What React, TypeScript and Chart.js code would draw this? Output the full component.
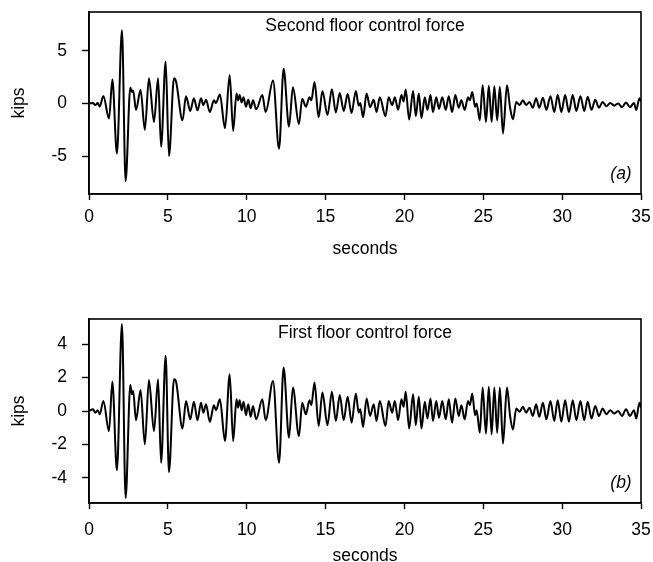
import React, { useEffect, useRef } from "react";
import { Chart, registerables } from "chart.js";

Chart.register(...registerables);

// ---- Data ----
const timeA = [
  0.0, 0.25, 0.4, 0.55, 0.68, 0.91, 1.27, 1.48, 1.77, 2.09, 2.32, 2.62, 2.72, 2.8, 2.98, 3.27, 3.54, 3.8, 4.12, 4.38,
  4.57, 4.86, 5.07, 5.39, 5.52, 5.93, 6.15, 6.42, 6.65, 6.88, 7.1, 7.25, 7.42, 7.66, 7.92, 8.05, 8.3, 8.62, 8.92, 9.14,
  9.35, 9.45, 9.55, 9.68, 9.8, 9.95, 10.1, 10.25, 10.4, 10.6, 10.99, 11.2, 11.67, 12.05, 12.34, 12.68, 12.93, 13.31, 13.52, 13.75,
  13.98, 14.1, 14.3, 14.56, 14.8, 15.12, 15.4, 15.65, 15.9, 16.15, 16.4, 16.65, 16.92, 17.1, 17.2, 17.38, 17.6, 17.82, 18.05, 18.23,
  18.44, 18.8, 19.0, 19.22, 19.39, 19.6, 19.81, 19.95, 20.08, 20.3, 20.55, 20.72, 20.91, 21.08, 21.29, 21.46, 21.65, 21.81, 22.02, 22.19,
  22.4, 22.62, 22.81, 23.02, 23.23, 23.44, 23.61, 23.82, 24.03, 24.15, 24.3, 24.48, 24.58, 24.78, 24.96, 25.17, 25.35, 25.53, 25.7, 25.88,
  26.05, 26.25, 26.5, 26.7, 26.88, 27.09, 27.3, 27.51, 27.72, 27.93, 28.14, 28.35, 28.55, 28.78, 29.0, 29.26, 29.5, 29.72, 29.95, 30.19,
  30.43, 30.67, 30.9, 31.16, 31.4, 31.62, 31.86, 32.1, 32.33, 32.57, 32.8, 33.05, 33.3, 33.55, 33.8, 34.05, 34.3, 34.55, 34.7, 34.9,
  35.0,
];
const forceA = [
  0.0, 0.05, -0.15, 0.05, -0.3, 0.72, -1.43, 2.28, -4.75, 6.96, -7.38, 1.52, 1.1, 1.25, -0.6, 1.3, -2.5, 2.4, -1.75, 2.4,
  -4.1, 4.0, -5.0, 2.4, 2.1, -1.6, 0.7, -0.7, 0.5, -0.65, 0.5, -0.15, 0.35, -0.8, 0.3, 0.05, 0.85, -2.35, 2.7, -2.6,
  0.95, 0.3, 0.8, 0.1, 0.6, -0.3, 0.35, -0.45, 0.3, -0.55, 0.8, -0.8, 2.2, -4.3, 3.3, -2.2, 1.55, -1.95, 0.45, -0.3,
  0.6, 0.3, 2.05, -1.3, 1.2, -1.1, 1.35, -0.85, 1.0, -0.7, 0.9, -0.9, 1.2, -0.2, 0.05, -1.3, 0.95, -0.35, 0.35, -0.8,
  0.6, -1.2, 0.6, -0.15, 0.6, -0.6, 0.8, 0.2, 1.33, -1.52, 1.2, -1.2, 0.95, -1.4, 0.6, -0.6, 0.8, -0.8, 0.6, -0.5,
  0.6, -0.6, 0.7, -0.8, 0.8, -0.4, 0.3, -0.6, 0.6, 0.3, 1.1, -0.3, 0.0, -1.6, 1.74, -1.75, 1.7, -1.75, 1.65, -1.6,
  1.6, -2.85, 1.74, -0.4, -1.5, 0.15, -0.15, 0.3, -0.15, 0.15, -0.4, 0.5, -0.4, 0.55, -0.6, 0.7, -0.8, 0.8, -0.8, 0.8,
  -0.8, 0.8, -0.7, 0.7, -0.7, 0.65, -0.6, 0.35, -0.4, 0.15, -0.25, 0.05, -0.2, 0.0, -0.35, 0.1, -0.35, 0.05, -0.6, 0.5,
  0.2,
];

const timeB = timeA.slice();
const forceB = [
  0.0, 0.1, -0.1, 0.05, -0.2, 0.6, -1.2, 1.76, -3.54, 5.2, -5.2, 1.55, 1.0, 1.2, -0.55, 1.25, -2.0, 1.85, -1.2, 1.9,
  -3.1, 3.3, -3.65, 1.9, 1.75, -1.05, 0.6, -0.5, 0.55, -0.55, 0.5, -0.1, 0.4, -0.65, 0.35, 0.05, 0.7, -1.8, 2.2, -1.8,
  0.7, 0.2, 0.65, 0.05, 0.55, -0.25, 0.4, -0.35, 0.3, -0.5, 0.7, -0.55, 1.8, -3.1, 2.6, -1.6, 1.4, -1.5, 0.5, -0.2,
  0.65, 0.35, 1.7, -0.9, 1.1, -0.85, 1.15, -0.6, 0.95, -0.55, 0.85, -0.7, 1.05, -0.1, 0.1, -0.95, 0.75, -0.3, 0.4, -0.6,
  0.6, -0.9, 0.6, -0.1, 0.6, -0.55, 0.7, 0.25, 1.15, -1.05, 1.0, -0.85, 0.85, -1.05, 0.55, -0.45, 0.75, -0.6, 0.6, -0.4,
  0.6, -0.5, 0.7, -0.7, 0.75, -0.3, 0.35, -0.5, 0.6, 0.35, 1.05, -0.25, 0.05, -1.3, 1.4, -1.35, 1.45, -1.4, 1.4, -1.3,
  1.4, -1.95, 1.4, -0.3, -1.1, 0.15, -0.05, 0.25, -0.1, 0.2, -0.3, 0.4, -0.35, 0.5, -0.5, 0.6, -0.6, 0.65, -0.65, 0.65,
  -0.65, 0.65, -0.55, 0.6, -0.55, 0.55, -0.45, 0.3, -0.3, 0.15, -0.2, 0.05, -0.15, 0.0, -0.3, 0.1, -0.3, 0.05, -0.45, 0.5,
  0.2,
];

const xTicks = [0, 5, 10, 15, 20, 25, 30, 35];
const yTicksA = [-5, 0, 5];
const yTicksB = [-4, -2, 0, 2, 4];

const FONT = "'Liberation Sans', Arial, Helvetica, sans-serif";
const FONT_SIZE = 17.5;
const W = 653;
const AREA_LEFT = 89;
const AREA_RIGHT = 641;

const framePlugin = {
  id: "frame",
  afterDraw(chart: any, _args: any, opts: any) {
    const { ctx, chartArea: a } = chart;
    ctx.save();
    ctx.strokeStyle = "#000";
    ctx.lineWidth = 1.6;
    ctx.strokeRect(a.left, a.top, a.right - a.left, a.bottom - a.top);
    ctx.fillStyle = "#000";
    ctx.textAlign = "center";
    ctx.textBaseline = "middle";
    ctx.font = `${FONT_SIZE}px ${FONT}`;
    ctx.fillText(opts.title, (a.left + a.right) / 2, a.top + opts.titleDy);
    ctx.font = `italic ${FONT_SIZE}px ${FONT}`;
    ctx.fillText(opts.tag, a.right - 20, a.bottom - 20);
    ctx.restore();
  },
};

type Cfg = {
  times: number[];
  values: number[];
  yTicks: number[];
  yMin: number;
  yMax: number;
  title: string;
  tag: string;
  height: number;
  areaTop: number;
  areaBottom: number;
  xTickPad: number;
  xTitlePad: number;
};

function build(canvas: HTMLCanvasElement, c: Cfg) {
  const font = { family: FONT, size: FONT_SIZE };
  return new Chart(canvas, {
    type: "line",
    data: {
      datasets: [
        {
          data: c.times.map((t, i) => ({ x: t, y: c.values[i] })),
          borderColor: "#000",
          borderWidth: 2,
          pointRadius: 0,
          cubicInterpolationMode: "monotone",
          fill: false,
        },
      ],
    },
    options: {
      animation: false,
      responsive: false,
      maintainAspectRatio: false,
      layout: { padding: { top: c.areaTop, right: W - AREA_RIGHT, left: 0, bottom: 0 } },
      plugins: {
        legend: { display: false },
        tooltip: { enabled: false },
        frame: { title: c.title, tag: c.tag, titleDy: 14 },
      } as any,
      scales: {
        x: {
          type: "linear",
          min: 0,
          max: 35,
          afterBuildTicks: (s: any) => {
            s.ticks = xTicks.map((v) => ({ value: v }));
          },
          afterFit: (s: any) => {
            s.height = c.height - c.areaBottom;
            s.paddingLeft = 0;
            s.paddingRight = 0;
            s.paddingTop = 0;
            s.paddingBottom = 0;
          },
          ticks: { font, color: "#000", padding: c.xTickPad, maxRotation: 0, autoSkip: false },
          grid: { drawOnChartArea: false, drawTicks: true, tickLength: 6, color: "#000", tickWidth: 1.4 },
          border: { display: true, color: "#000", width: 1.6 },
          title: { display: true, text: "seconds", font, color: "#000", padding: { top: 0, bottom: c.xTitlePad } },
        },
        y: {
          type: "linear",
          min: c.yMin,
          max: c.yMax,
          afterBuildTicks: (s: any) => {
            s.ticks = c.yTicks.map((v) => ({ value: v }));
          },
          afterFit: (s: any) => {
            s.width = AREA_LEFT;
            s.paddingTop = 0;
            s.paddingBottom = 0;
            s.paddingLeft = 0;
            s.paddingRight = 0;
          },
          ticks: { font, color: "#000", padding: 15 },
          grid: { drawOnChartArea: false, drawTicks: true, tickLength: 7, color: "#000", tickWidth: 1.4 },
          border: { display: true, color: "#000", width: 1.6 },
          title: { display: true, text: "kips", font, color: "#000", padding: { top: 9, bottom: 0 } },
        },
      },
    },
    plugins: [framePlugin],
  });
}

function Panel({ cfg, top }: { cfg: Cfg; top: number }) {
  const ref = useRef<HTMLCanvasElement | null>(null);
  useEffect(() => {
    if (!ref.current) return;
    const chart = build(ref.current, cfg);
    return () => chart.destroy();
  }, []);
  return (
    <canvas
      ref={ref}
      width={W}
      height={cfg.height}
      style={{ position: "absolute", left: 0, top, width: W, height: cfg.height }}
    />
  );
}

const cfgA: Cfg = {
  times: timeA,
  values: forceA,
  yTicks: yTicksA,
  yMin: -8.6,
  yMax: 8.7,
  title: "Second floor control force",
  tag: "(a)",
  height: 290,
  areaTop: 12,
  areaBottom: 194,
  xTickPad: 7,
  xTitlePad: 30,
};

const cfgB: Cfg = {
  times: timeB,
  values: forceB,
  yTicks: yTicksB,
  yMin: -5.5,
  yMax: 5.5,
  title: "First floor control force",
  tag: "(b)",
  height: 285,
  areaTop: 29,
  areaBottom: 213,
  xTickPad: 11,
  xTitlePad: 8,
};

export default function App() {
  return (
    <div
      style={{
        position: "fixed",
        left: 0,
        top: 0,
        width: W,
        height: 562,
        overflow: "hidden",
        background: "#fff",
      }}
    >
      <Panel cfg={cfgA} top={0} />
      <Panel cfg={cfgB} top={290} />
    </div>
  );
}
